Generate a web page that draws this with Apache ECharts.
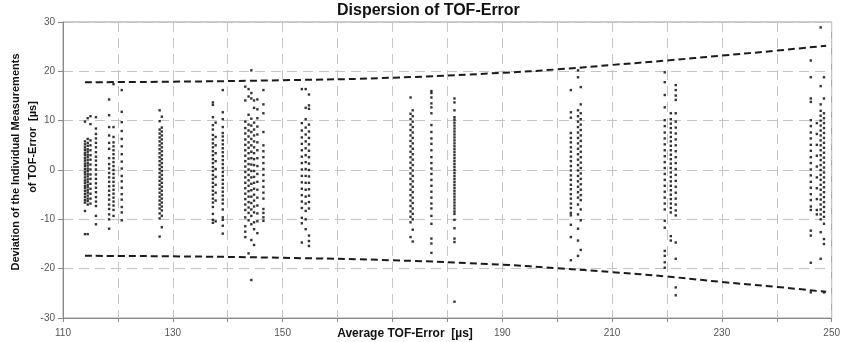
<!DOCTYPE html>
<html>
<head>
<meta charset="utf-8">
<script src="https://cdn.jsdelivr.net/npm/echarts@6/dist/echarts.min.js"></script>
<style>
html,body{margin:0;padding:0;background:#fff;}
#chart{width:843px;height:342px;}
</style>
</head>
<body>
<div id="chart"></div>
<script>
// ---- data ----
const xTicks = [110, 130, 150, 190, 210, 230, 250];
const colX = [114.0, 114.5, 115.0, 116.0, 118.4, 119.2, 120.7, 127.6, 128.0, 137.3, 137.8, 139.1,
  143.2, 143.8, 144.3, 144.8, 145.4, 146.5, 153.5, 154.2, 154.8, 173.3, 173.7, 177.1, 181.3,
  202.5, 203.8, 204.3, 219.6, 220.7, 221.6, 246.2, 247.3, 248.0, 248.6];
const colY = [
  [9.8, 5.8, 5.2, 4.6, 4.1, 3.5, 3.0, 2.4, 1.9, 1.3, 0.8, 0.2, -0.4, -0.9, -1.5, -2.1, -2.6, -3.2, -3.7, -4.3, -4.9, -5.5, -6.1, -6.6, -8.3, -13.0],
  [10.5, 6.3, 5.5, 4.9, 4.2, 3.7, 3.1, 2.6, 2.0, 1.4, 0.9, 0.3, -0.2, -0.8, -1.3, -1.9, -2.4, -3.0, -3.5, -4.1, -4.6, -5.2, -5.8, -6.3, -7.0, -13.0],
  [10.9, 9.3, 6.0, 5.0, 4.0, 3.0, 2.1, 1.1, 0.1, -0.9, -1.8, -2.8, -3.8, -4.8, -5.8, -6.8],
  [10.7, 8.4, 7.3, 6.4, 5.5, 4.6, 3.6, 2.7, 1.9, 1.0, 0.1, -0.9, -1.8, -2.7, -3.6, -4.5, -5.5, -6.4, -7.3, -9.3, -11.0],
  [14.3, 11.1, 8.7, 7.0, 5.5, 4.3, 2.4, 1.2, 0.3, -0.6, -1.5, -2.4, -3.3, -4.2, -5.1, -6.0, -7.0, -7.9, -9.0, -10.0, -11.9],
  [17.4, 8.7, 6.7, 5.6, 4.8, 4.0, 3.2, 2.4, 1.6, 0.8, 0.0, -0.8, -1.6, -2.4, -3.2, -4.0, -4.8, -5.6, -6.4, -7.2, -8.1, -9.3],
  [16.2, 11.8, 9.7, 7.9, 6.3, 4.8, 3.2, 1.7, 0.3, -1.2, -2.3, -3.6, -4.9, -6.0, -7.5, -8.6, -10.2],
  [12.1, 9.9, 8.2, 7.4, 6.6, 5.8, 5.0, 4.2, 3.4, 2.6, 1.8, 1.0, 0.2, -0.6, -1.4, -2.2, -3.0, -3.8, -4.6, -5.4, -6.2, -7.0, -7.8, -8.8, -9.8, -13.5],
  [10.8, 8.6, 7.8, 7.0, 6.2, 5.4, 4.6, 3.8, 3.0, 2.2, 1.4, 0.6, -0.2, -1.0, -1.8, -2.6, -3.4, -4.2, -5.0, -5.8, -6.6, -7.4, -8.2, -9.3, -11.6],
  [13.7, 13.2, 10.7, 9.1, 8.2, 7.1, 6.2, 5.4, 4.6, 3.8, 3.0, 2.2, 1.4, 0.6, -0.2, -1.0, -1.8, -2.6, -3.4, -4.2, -5.0, -5.8, -6.6, -7.5, -8.9, -10.1, -10.7],
  [9.6, 6.7, 5.0, 3.4, 1.8, 0.2, -1.4, -3.0, -4.6, -6.2, -10.4],
  [16.2, 11.7, 10.3, 8.7, 7.5, 6.8, 6.0, 5.2, 4.4, 3.6, 2.8, 2.0, 1.2, 0.4, -0.4, -1.2, -2.0, -2.8, -3.6, -4.4, -5.2, -6.0, -6.8, -8.0, -9.6, -10.1, -11.3, -12.9],
  [16.9, 14.1, 9.8, 8.5, 7.4, 6.2, 5.1, 4.0, 2.9, 1.8, 0.7, -0.4, -1.5, -2.6, -3.7, -4.8, -5.9, -7.0, -8.1, -9.6, -11.4, -12.5, -13.6],
  [16.4, 14.9, 11.2, 9.2, 8.0, 6.8, 5.6, 4.5, 3.4, 2.3, 1.2, 0.1, -1.0, -2.1, -3.2, -4.3, -5.4, -6.5, -7.6, -8.7, -10.2, -16.9],
  [20.2, 15.6, 14.5, 10.4, 9.0, 7.7, 6.3, 5.0, 3.7, 2.4, 1.1, -0.2, -1.5, -2.8, -4.1, -5.4, -6.7, -8.0, -9.3, -11.0, -14.2, -22.3],
  [14.1, 12.6, 9.6, 8.2, 7.0, 5.8, 4.6, 3.4, 2.2, 1.0, -0.2, -1.4, -2.6, -3.8, -5.0, -6.2, -7.4, -8.6, -10.6, -12.0, -15.2],
  [14.3, 12.3, 10.5, 8.8, 7.2, 5.6, 4.0, 2.4, 0.8, -0.8, -2.4, -4.0, -5.6, -7.2, -8.8, -10.4, -12.8],
  [16.2, 13.3, 11.5, 7.7, 5.0, 3.8, 2.6, 1.4, 0.2, -1.0, -2.2, -3.4, -4.6, -5.8, -7.9, -8.7, -9.6, -10.3],
  [16.4, 9.5, 8.0, 6.6, 5.3, 4.0, 2.7, 1.4, 0.1, -1.2, -2.5, -3.8, -5.1, -6.4, -7.7, -9.7, -10.8, -14.7],
  [16.4, 12.6, 10.3, 8.6, 7.2, 5.8, 4.4, 3.0, 1.6, 0.2, -1.2, -2.6, -4.0, -5.4, -6.8, -8.3, -10.0, -12.0],
  [15.3, 13.1, 12.4, 9.2, 7.8, 6.5, 5.2, 3.9, 2.6, 1.3, 0.0, -1.3, -2.6, -3.9, -5.2, -6.5, -7.8, -13.3, -14.4, -15.4],
  [14.7, 11.4, 10.3, 9.2, 8.1, 7.0, 5.9, 4.8, 3.7, 2.6, 1.5, 0.4, -0.7, -1.8, -2.9, -4.0, -5.1, -6.2, -7.3, -8.4, -9.5, -10.6, -13.6],
  [12.1, 10.9, 9.8, 8.7, 7.6, 6.5, 5.4, 4.3, 3.2, 2.1, 1.0, -0.1, -1.2, -2.3, -3.4, -4.5, -5.6, -6.7, -7.8, -8.9, -10.0, -12.1, -14.5],
  [16.0, 15.6, 14.7, 13.5, 12.7, 11.5, 9.1, 7.7, 6.4, 5.3, 4.0, 2.6, 1.4, 0.3, -0.8, -2.0, -3.2, -4.4, -5.6, -6.8, -7.8, -9.3, -10.9, -13.9, -14.9, -16.8],
  [14.5, 13.7, 12.1, 10.7, 10.2, 9.6, 9.0, 8.4, 7.8, 7.2, 6.6, 6.0, 5.4, 4.8, 4.2, 3.6, 3.0, 2.4, 1.8, 1.2, 0.6, 0.0, -0.6, -1.2, -1.8, -2.4, -3.0, -3.6, -4.2, -4.8, -5.4, -6.0, -6.6, -7.2, -7.8, -8.4, -8.9, -10.1, -11.8, -13.9, -14.6, -26.7],
  [16.2, 11.7, 10.6, 7.5, 6.5, 5.6, 4.6, 3.7, 2.7, 1.8, 0.8, -0.1, -1.1, -2.0, -3.0, -3.9, -4.9, -5.8, -6.8, -7.7, -8.7, -9.2, -11.1, -13.6, -18.3],
  [20.2, 18.8, 12.1, 10.9, 9.8, 8.7, 7.6, 6.5, 5.4, 4.3, 3.2, 2.1, 1.0, -0.1, -1.2, -2.3, -3.4, -4.5, -5.6, -7.0, -9.0, -11.9, -14.3, -17.4],
  [16.8, 13.3, 11.5, 10.3, 9.2, 8.1, 7.0, 5.9, 4.8, 3.7, 2.6, 1.5, 0.4, -0.7, -1.8, -2.9, -4.0, -5.1, -6.1, -8.0, -10.2, -16.2],
  [19.8, 17.8, 15.2, 12.7, 10.1, 8.9, 7.6, 6.4, 5.2, 4.0, 2.8, 1.6, 0.4, -0.8, -2.0, -3.2, -4.4, -5.6, -6.8, -8.0, -10.3, -11.7, -16.4, -17.4, -18.7, -19.8],
  [11.5, 10.3, 9.4, 8.5, 7.6, 6.7, 5.8, 4.9, 4.0, 3.1, 2.2, 1.3, 0.4, -0.5, -1.4, -2.3, -3.2, -4.1, -5.0, -5.9, -6.8, -7.7, -8.6, -13.4, -14.3],
  [17.2, 16.2, 15.1, 14.2, 11.5, 9.8, 8.6, 7.4, 6.2, 5.0, 3.8, 2.6, 1.4, 0.2, -1.0, -2.2, -3.4, -4.6, -5.8, -7.0, -8.2, -9.2, -14.7, -18.0, -23.8, -25.4],
  [22.2, 18.8, 14.5, 13.8, 10.1, 8.9, 7.6, 6.4, 5.1, 3.9, 2.6, 1.4, 0.1, -1.1, -2.4, -3.6, -4.9, -6.1, -7.4, -8.1, -12.3, -13.3, -18.8, -24.8],
  [9.5, 7.3, 5.1, 2.9, 0.7, -1.5, -3.7, -5.9, -8.1, -9.0],
  [28.9, 17.0, 13.3, 12.0, 11.0, 10.0, 9.0, 8.0, 7.0, 6.0, 5.0, 4.0, 3.0, 2.0, 1.0, 0.0, -1.0, -2.0, -3.0, -4.0, -5.0, -6.0, -7.0, -8.0, -9.0, -10.0, -12.6, -18.0],
  [18.8, 14.5, 11.5, 10.5, 9.5, 8.5, 7.5, 6.5, 5.5, 4.5, 3.5, 2.5, 1.5, 0.5, -0.5, -1.5, -2.5, -3.5, -4.5, -5.5, -6.5, -7.5, -8.5, -9.5, -10.9, -14.0, -15.0, -24.8]
];
const envX = [114, 130, 150, 170, 190, 200, 210, 220, 230, 240, 249];
const upperY = [17.8, 17.9, 18.2, 18.7, 19.7, 20.4, 21.3, 22.2, 23.2, 24.2, 25.2];
const lowerY = [-17.4, -17.5, -17.8, -18.3, -19.2, -19.9, -20.7, -21.6, -22.7, -23.7, -24.7];

// ---- build ----
const points = [];
colX.forEach((x, i) => colY[i].forEach(y => points.push([x, y])));
const upper = envX.map((x, i) => [x, upperY[i]]);
const lower = envX.map((x, i) => [x, lowerY[i]]);

const sans = "'Liberation Sans', Arial, sans-serif";
const chart = echarts.init(document.getElementById('chart'), null, {renderer: 'canvas'});
chart.setOption({
  backgroundColor: '#ffffff',
  animation: false,
  grid: {left: 63, right: 5, top: 22, bottom: 24, show: true, borderColor: '#9a9a9a', borderWidth: 1, backgroundColor: 'transparent'},
  xAxis: {
    type: 'value', min: 110, max: 250, interval: 10,
    axisLine: {show: true, onZero: false, lineStyle: {color: '#8a8a8a', width: 1}},
    axisTick: {show: true, length: 4, lineStyle: {color: '#8a8a8a'}},
    splitLine: {show: true, lineStyle: {color: '#c4c4c4', type: [10, 6], width: 1}},
    axisLabel: {
      color: '#555', fontSize: 10, fontFamily: sans, margin: 10,
      formatter: v => xTicks.indexOf(v) >= 0 ? String(v) : ''
    }
  },
  yAxis: {
    type: 'value', min: -30, max: 30, interval: 10,
    axisLine: {show: true, onZero: false, lineStyle: {color: '#8a8a8a', width: 1}},
    axisTick: {show: true, length: 5, lineStyle: {color: '#8a8a8a'}},
    splitLine: {show: true, lineStyle: {color: '#c4c4c4', type: [10, 6], width: 1}},
    axisLabel: {color: '#555', fontSize: 10, fontFamily: sans, margin: 8}
  },
  graphic: [
    {type: 'text', left: 337, top: 3, style: {text: 'Dispersion of TOF-Error', font: "bold 16px " + sans, fill: '#111'}},
    {type: 'text', x: 405, y: 334, style: {text: 'Average TOF-Error  [µs]', font: "bold 12px " + sans, fill: '#111', align: 'center', verticalAlign: 'middle'}},
    {type: 'text', x: 16, y: 162, rotation: Math.PI / 2, style: {text: 'Deviation of the Individual Measurements', font: "bold 11px " + sans, fill: '#111', align: 'center', verticalAlign: 'middle'}},
    {type: 'text', x: 33, y: 147, rotation: Math.PI / 2, style: {text: 'of TOF-Error  [µs]', font: "bold 11px " + sans, fill: '#111', align: 'center', verticalAlign: 'middle'}}
  ],
  series: [
    {type: 'scatter', data: points, symbol: 'rect', symbolSize: 2.4, itemStyle: {color: '#000'}, z: 3},
    {type: 'line', data: upper, smooth: true, showSymbol: false, symbol: 'none', lineStyle: {color: '#1a1a1a', width: 2, type: [7, 4]}, z: 4},
    {type: 'line', data: lower, smooth: true, showSymbol: false, symbol: 'none', lineStyle: {color: '#1a1a1a', width: 2, type: [7, 4]}, z: 4}
  ]
});
</script>
</body>
</html>
